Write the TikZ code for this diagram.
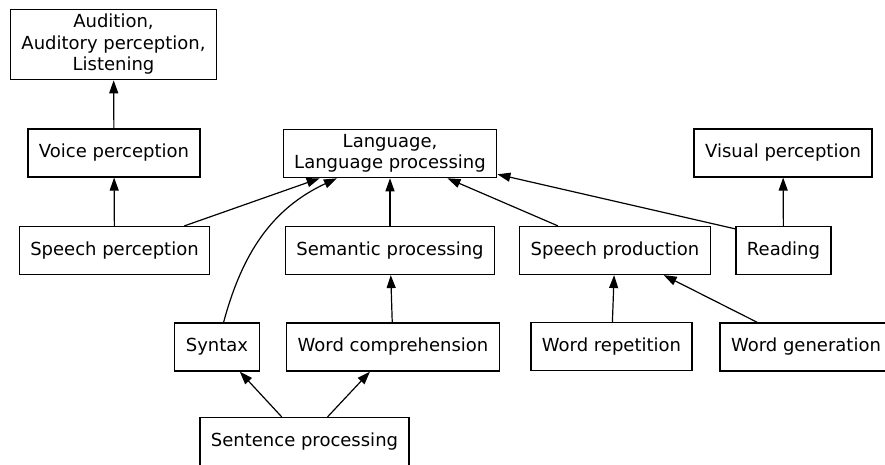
\documentclass[tikz,border=0pt]{standalone}
\usepackage{fontspec}
\setmainfont{DejaVu Sans}
\usetikzlibrary{arrows.meta}
\def\areanode{\node[area]}
\def\drawlink{\draw[link]}

\begin{document}
\begin{tikzpicture}[x=1pt,y=-1pt,
  area/.style={draw,line width=1.2pt,inner xsep=11pt,inner ysep=5pt,minimum height=48pt,
    align=center,font=\fontsize{18}{21.5}\selectfont},
  link/.style={line width=1.2pt,-{Triangle[length=13pt,width=9pt]}}]
\useasboundingbox (0,0) rectangle (885,464);

% -------- top row ---------
\areanode (aud) at (113.5,44.5) {Audition,\\Auditory perception,\\Listening};
\areanode (voice) at (114,153) {Voice perception};
\areanode (lang) at (390,153.5) {Language,\\Language processing};
\areanode (vis) at (783,153) {Visual perception};

% -------- middle row ---------
\areanode (sperc) at (114.5,250.5) {Speech perception};
\areanode (sem) at (390,250.5) {Semantic processing};
\areanode (sprod) at (615,250.5) {Speech production};
\areanode (read) at (783.5,250.5) {Reading};

% -------- lower rows ---------
\areanode (syn) at (217,347) {Syntax};
\areanode (wcomp) at (393,347) {Word comprehension};
\areanode (wrep) at (611.5,346.5) {Word repetition};
\areanode (wgen) at (806,347) {Word generation}; % runs past the right edge
\areanode (sent) at (304.5,441.5) {Sentence processing};

% ------ links, all point upwards ------
\drawlink (voice) -- (aud);
\drawlink (sperc) -- (voice);
\drawlink (sperc) -- (lang);
\drawlink (syn) to[out=75,in=205] (lang);
\drawlink (sem) -- (lang);
\drawlink (sprod) -- (lang);
\drawlink ([yshift=-3pt]read.north west) -- ([yshift=4pt]lang.south east);
\drawlink (read) -- (vis);
\drawlink (wcomp) -- (sem);
\drawlink (wrep) -- (sprod);
\drawlink (wgen) -- (sprod);
\drawlink (sent) -- (syn);
\drawlink (sent) -- (wcomp);
\end{tikzpicture}
\end{document}
